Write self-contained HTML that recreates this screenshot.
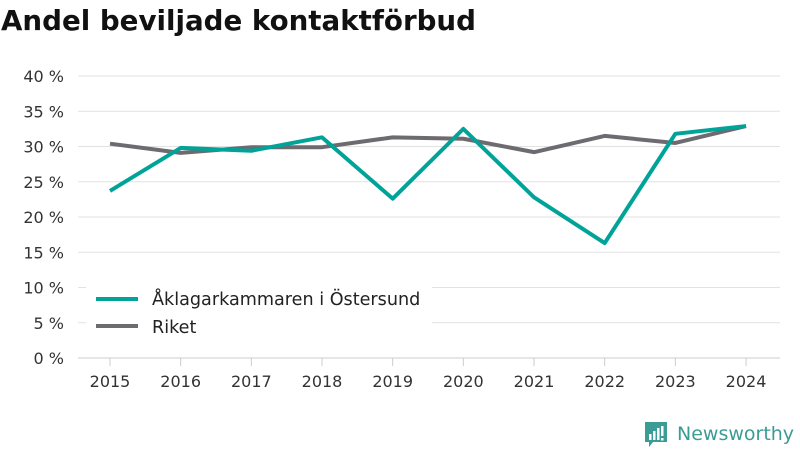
<!DOCTYPE html>
<html><head><meta charset="utf-8">
<style>
body{margin:0;width:800px;height:450px;background:#fff;font-family:"Liberation Sans","DejaVu Sans",sans-serif;overflow:hidden}
svg text{font-family:"DejaVu Sans","Liberation Sans",sans-serif}
</style></head>
<body>
<svg id="c" width="800" height="450">
<text x="1" y="30" font-size="27.7" font-weight="bold" fill="#111">Andel beviljade kontaktförbud</text>
<g id="grid"></g>
<g id="xt"></g>
<g id="lines"></g>
<g>
<rect x="86" y="282" width="346" height="42" fill="#fff"/>
<line x1="96" y1="299" x2="138" y2="299" stroke="#00a398" stroke-width="4"/>
<text x="152" y="305" font-size="17.6" fill="#222">Åklagarkammaren i Östersund</text>
<line x1="96" y1="326" x2="138" y2="326" stroke="#6d6a70" stroke-width="4"/>
<text x="152" y="333" font-size="17.6" fill="#222">Riket</text>
</g>
<g>
<path d="M645 422 h22 v20 h-14 l-4 5 v-5 h-4 z" fill="#3a9c94"/>
<rect x="649" y="434" width="2.5" height="6" fill="#fff"/><rect x="653" y="431" width="2.5" height="9" fill="#fff"/><rect x="657" y="428" width="2.5" height="12" fill="#fff"/><rect x="661" y="426" width="2.5" height="10" fill="#fff"/><rect x="661" y="438" width="2.5" height="2.5" fill="#fff"/>
<text x="677" y="440" font-size="19" fill="#3a9c94">Newsworthy</text>
</g>
</svg>
<script>
const years=["2015","2016","2017","2018","2019","2020","2021","2022","2023","2024"];
const ostersund=[23.7,29.8,29.4,31.3,22.6,32.5,22.8,16.3,31.8,32.9];
const riket=[30.4,29.1,29.9,29.9,31.3,31.1,29.2,31.5,30.5,32.9];
const yTicks=[0,5,10,15,20,25,30,35,40];
const yLabels=["0 %","5 %","10 %","15 %","20 %","25 %","30 %","35 %","40 %"];
const NS="http://www.w3.org/2000/svg";
const x=i=>110+i*70.67;
const y=v=>358-v*7.05;
function mk(t,a,p){const e=document.createElementNS(NS,t);for(const k in a)e.setAttribute(k,a[k]);p.appendChild(e);return e;}
const g=document.getElementById('grid');
yTicks.forEach((t,i)=>{
const l=mk('line',{x1:78,x2:780,y1:y(t),y2:y(t),stroke:i==0?'#ccc':'#e2e2e2','stroke-width':1},g);


const tx=mk('text',{x:64,y:y(t)+6,'font-size':16,fill:'#333','text-anchor':'end'},g);
tx.textContent=yLabels[i];


});
const xt=document.getElementById('xt');
years.forEach((yr,i)=>{
const l=mk('line',{x1:x(i),x2:x(i),y1:358,y2:366,stroke:'#ccc'},xt);


const t=mk('text',{x:x(i),y:387,'font-size':16,fill:'#333','text-anchor':'middle'},xt);
t.textContent=yr;


});
const lg=document.getElementById('lines');
function line(d,c,n){
const p=mk('polyline',{points:d.map((v,i)=>x(i)+','+y(v)).join(' '),fill:'none',stroke:c,'stroke-width':4,'stroke-linejoin':'round'},lg);


}
line(riket,'#6d6a70','line-riket');
line(ostersund,'#00a398','line-ostersund');
</script>
</body></html>
